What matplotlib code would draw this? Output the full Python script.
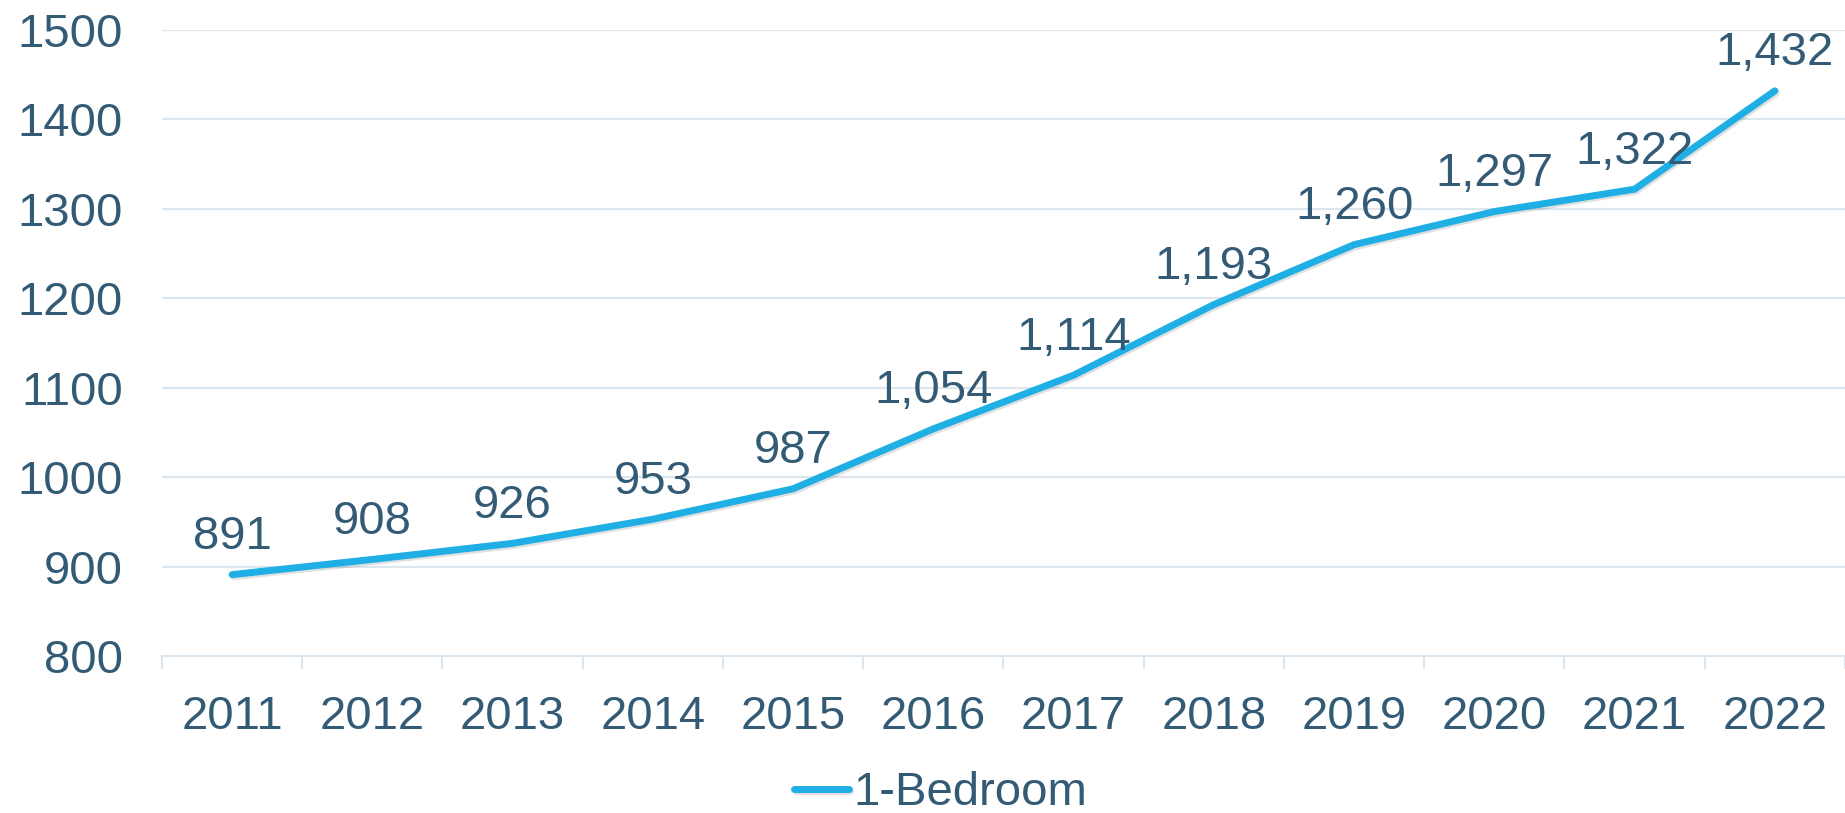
import matplotlib.pyplot as plt
import matplotlib.patheffects as pe

years = ['2011', '2012', '2013', '2014', '2015', '2016',
         '2017', '2018', '2019', '2020', '2021', '2022']
rent_1br = [891, 908, 926, 953, 987, 1054, 1114, 1193, 1260, 1297, 1322, 1432]

txt = '#345B76'
grid = '#DCE6EF'
blue = '#1FAFE5'
fs = 34

plt.rcParams['font.family'] = ['Liberation Sans', 'DejaVu Sans']

fig = plt.figure(figsize=(18.45, 8.13), dpi=100)
ax = fig.add_axes([0.0878, 0.1931, 0.9122, 0.7700])

x = list(range(len(years)))
ax.plot(x, rent_1br, color=blue, lw=5, solid_capstyle='round', label='1-Bedroom',
        path_effects=[pe.SimpleLineShadow(offset=(1, -1.5), alpha=0.12), pe.Normal()])

# value labels above each point
for xi, v in zip(x, rent_1br):
    ax.annotate(f'{v:,}', (xi, v), xytext=(0, 27), textcoords='offset points',
                ha='center', va='center', fontsize=fs, color=txt)

ax.set_xlim(-0.5, len(years) - 0.5)
ax.set_ylim(800, 1500)
ax.set_yticks(range(800, 1501, 100))
ax.set_xticks(x)
ax.set_xticklabels(years)
ax.set_xticks([i - 0.5 for i in range(len(years) + 1)], minor=True)

ax.grid(axis='y', color=grid, lw=1.5)
ax.set_axisbelow(True)
for s in ['top', 'right', 'left']:
    ax.spines[s].set_visible(False)
ax.spines['bottom'].set_color(grid)
ax.spines['bottom'].set_linewidth(1.5)

ax.tick_params(axis='y', length=0, labelsize=fs, labelcolor=txt, pad=28)
ax.tick_params(axis='x', which='major', length=0, labelsize=fs, labelcolor=txt, pad=28)
ax.tick_params(axis='x', which='minor', length=9.5, width=1.5, color=grid)

ax.legend(loc='center', bbox_to_anchor=(0.510, 0.024), bbox_transform=fig.transFigure,
          frameon=False, fontsize=fs, labelcolor=txt, handlelength=1.15, handletextpad=0.1,
          borderpad=0)

fig.savefig('out.png', dpi=100)
